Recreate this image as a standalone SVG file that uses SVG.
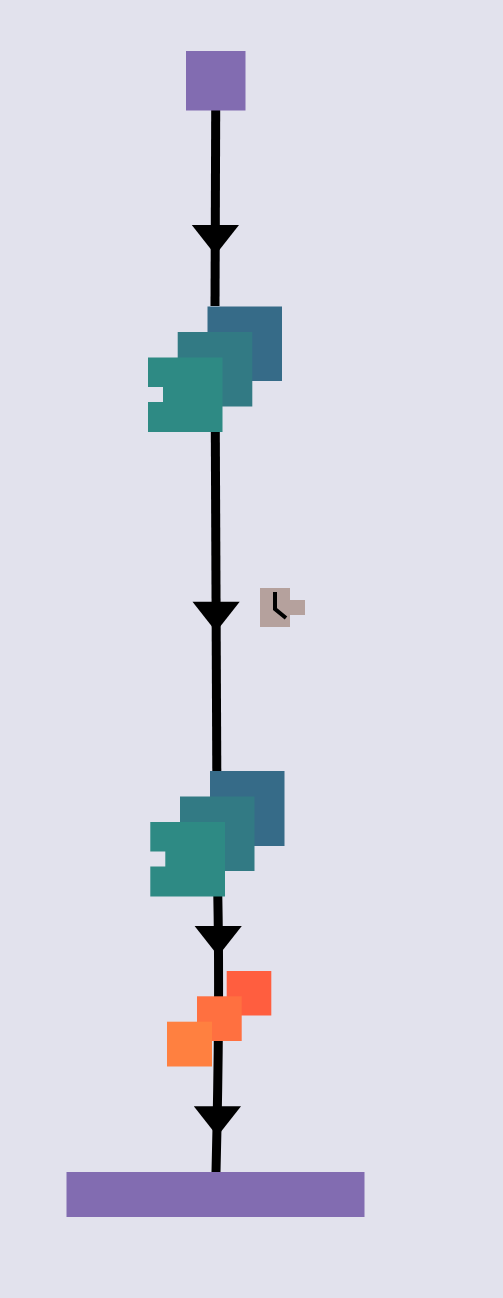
<svg xmlns="http://www.w3.org/2000/svg" width="503" height="1298" viewBox="0 0 503 1298">
<style>
.edge{fill:none;stroke:#000;stroke-width:9}
.head{fill:#000}
.purple{fill:#826cb1}
.b1{fill:#366b88}
.b2{fill:#327a84}
.b3{fill:#2e8a84}
.o1{fill:#ff5e3f}
.o2{fill:#ff7040}
.o3{fill:#ff8040}
.clock{fill:#b5a19d}
.hands{fill:none;stroke:#000;stroke-width:4}
</style>
<defs>
<polygon id="head" class="head" points="-23.6,0 23.6,0 0,30"/>
</defs>
<rect width="503" height="1298" fill="#e2e2ed"/>
<g id="connectors">
<path class="edge" d="M215.7 110 L215 306"/>
<path class="edge" d="M215.3 432 L216.8 771"/>
<path class="edge" d="M217.8 896 Q220 1010 216 1172"/>
<use href="#head" x="215.4" y="225"/>
<use href="#head" x="216.1" y="601.7"/>
<use href="#head" x="218.2" y="926"/>
<use href="#head" x="217.4" y="1106.3"/>
</g>
<g id="node-start"><rect class="purple" x="186" y="51" width="59.5" height="59.5"/></g>
<g id="node-stack-1">
<rect class="b1" x="207.5" y="306.5" width="74.5" height="74.5"/>
<rect class="b2" x="177.7" y="332" width="74.6" height="74.5"/>
<path class="b3" d="M148 357.5H222.5V432H148V402H163V387H148Z"/>
</g>
<g id="node-timer">
<path class="clock" d="M260 588H290V600H305V615H290V627H260Z"/>
<path class="hands" d="M275 592V609L286 618"/>
</g>
<g id="node-stack-2">
<rect class="b1" x="210" y="771" width="74.5" height="75"/>
<rect class="b2" x="180" y="796.5" width="74.5" height="74.5"/>
<path class="b3" d="M150.3 822H225V896.5H150.3V866.5H165.3V851.5H150.3Z"/>
</g>
<g id="node-orange">
<rect class="o1" x="226.7" y="971" width="44.6" height="44.5"/>
<rect class="o2" x="197" y="996.3" width="44.7" height="44.7"/>
<rect class="o3" x="167" y="1021.7" width="45" height="44.8"/>
</g>
<g id="node-end"><rect class="purple" x="66.5" y="1172" width="298" height="45"/></g>
</svg>
